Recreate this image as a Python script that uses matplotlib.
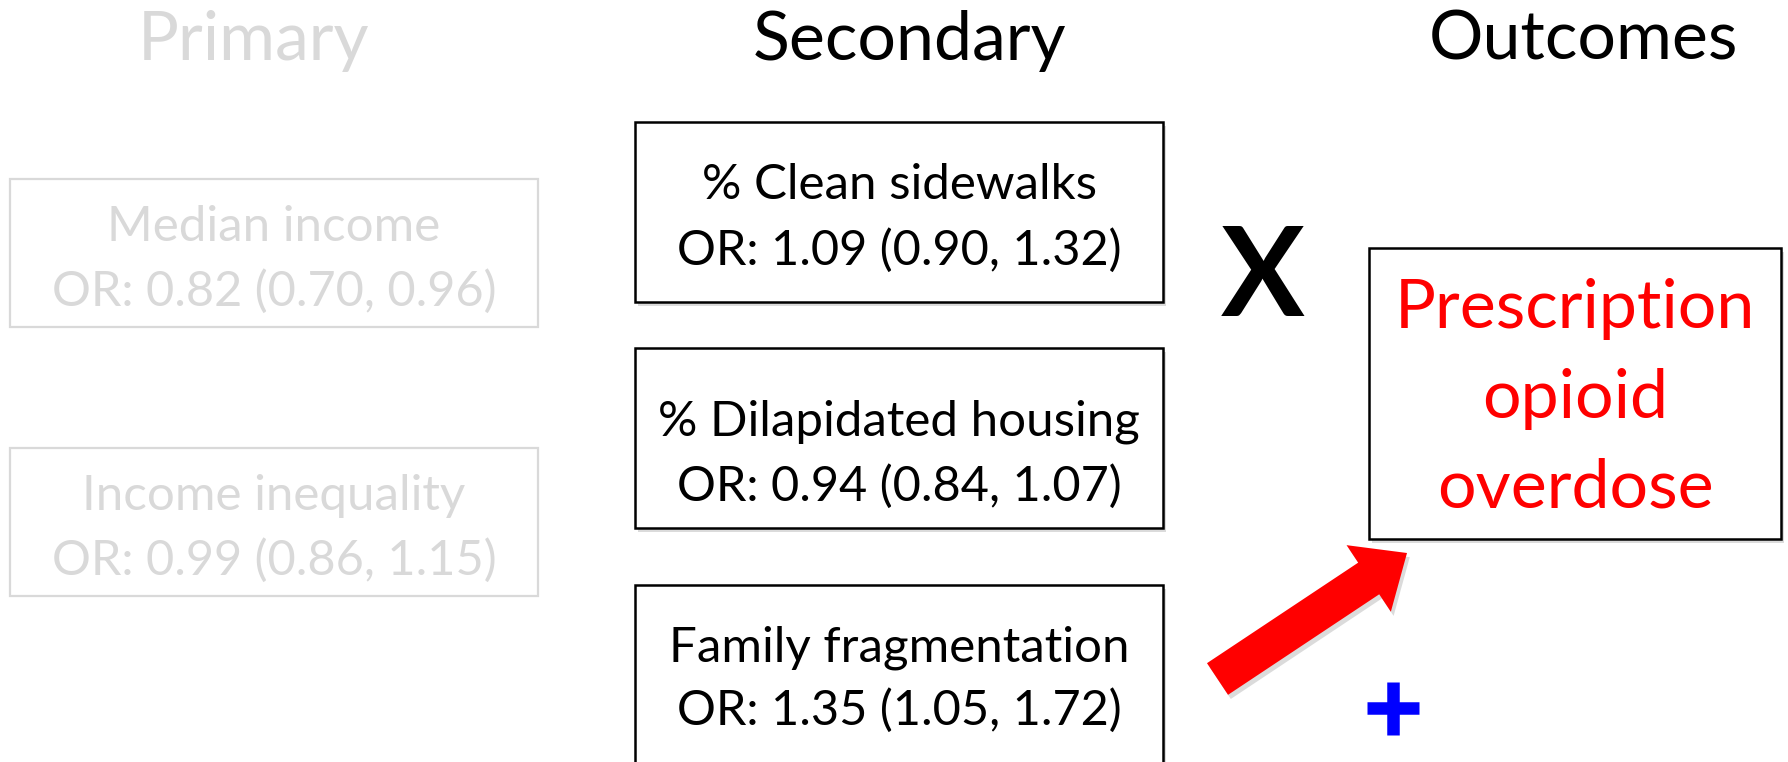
import matplotlib
matplotlib.use("Agg")
import matplotlib.pyplot as plt
from matplotlib.patches import Rectangle, FancyArrow
import matplotlib.patheffects as pe

plt.rcParams['font.family'] = ['Lato', 'DejaVu Sans']

# ---------------- data ----------------
column_titles = ["Primary", "Secondary", "Outcomes"]

primary_labels = ["Median income", "Income inequality"]
primary_or = [0.82, 0.99]
primary_lo = [0.70, 0.86]
primary_hi = [0.96, 1.15]

secondary_labels = ["% Clean sidewalks", "% Dilapidated housing", "Family fragmentation"]
secondary_or = [1.09, 0.94, 1.35]
secondary_lo = [0.90, 0.84, 1.05]
secondary_hi = [1.32, 1.07, 1.72]

outcome_lines = ["Prescription", "opioid", "overdose"]

# ---------------- layout (pixel space) ----------------
W, H = 1788, 762
GRAY = '#d9d9d9'
shadow = [pe.SimplePatchShadow(offset=(2, -3), shadow_rgbFace='#999999', alpha=0.35), pe.Normal()]

fig = plt.figure(figsize=(W / 100, H / 100), dpi=100)
ax = fig.add_axes([0, 0, 1, 1])
ax.set_xlim(0, W)
ax.set_ylim(H, 0)
ax.set_aspect('equal')
ax.axis('off')


def or_text(o, lo, hi):
    return f"OR: {o:.2f} ({lo:.2f}, {hi:.2f})"


# column titles
title_x = [253, 909, 1583]
title_col = [GRAY, 'black', 'black']
for t, x, c in zip(column_titles, title_x, title_col):
    ax.text(x, 60, t, fontsize=49, color=c, ha='center', va='baseline')

# primary boxes (faded)
p_top = [179, 448]
for i, lab in enumerate(primary_labels):
    y0 = p_top[i]
    ax.add_patch(Rectangle((10, y0), 528, 148, fill=False, edgecolor=GRAY, lw=1.6))
    ax.text(274, y0 + 62, lab, fontsize=35.5, color=GRAY, ha='center', va='baseline')
    ax.text(274, y0 + 127, or_text(primary_or[i], primary_lo[i], primary_hi[i]),
            fontsize=35, color=GRAY, ha='center', va='baseline')

# secondary boxes
s_top = [122, 348, 585]
s_h = [180, 180, 260]
s_base = [(199, 265), (436, 501), (661, 725)]
for i, lab in enumerate(secondary_labels):
    r = Rectangle((635, s_top[i]), 528, s_h[i], facecolor='white', edgecolor='black', lw=1.8)
    r.set_path_effects(shadow)
    ax.add_patch(r)
    ax.text(899, s_base[i][0], lab, fontsize=35.5, color='black', ha='center', va='baseline')
    ax.text(899, s_base[i][1], or_text(secondary_or[i], secondary_lo[i], secondary_hi[i]),
            fontsize=35, color='black', ha='center', va='baseline')

# outcome box
r = Rectangle((1369, 248), 412, 291, facecolor='white', edgecolor='black', lw=1.8)
r.set_path_effects(shadow)
ax.add_patch(r)
for line, yb in zip(outcome_lines, [328, 418, 508]):
    ax.text(1575, yb, line, fontsize=49, color='#ff0000', ha='center', va='baseline')

# big X (no association with clean sidewalks)
ax.text(1263, 316, "X", fontsize=90, fontweight='bold', color='black', ha='center', va='baseline')

# red arrow family fragmentation -> outcome
arr = FancyArrow(1217.5, 679, 189.5, -126, width=38, head_width=80, head_length=46,
                 length_includes_head=True, facecolor='#ff0000', edgecolor='none')
arr.set_path_effects([pe.SimplePatchShadow(offset=(2, -3), shadow_rgbFace='#999999', alpha=0.35), pe.Normal()])
ax.add_patch(arr)

# blue plus sign
ax.plot([1367, 1419], [708, 708], color='#0000ff', lw=9, solid_capstyle='butt')
ax.plot([1393, 1393], [682, 735], color='#0000ff', lw=9, solid_capstyle='butt')

fig.savefig("out.png", dpi=100)
